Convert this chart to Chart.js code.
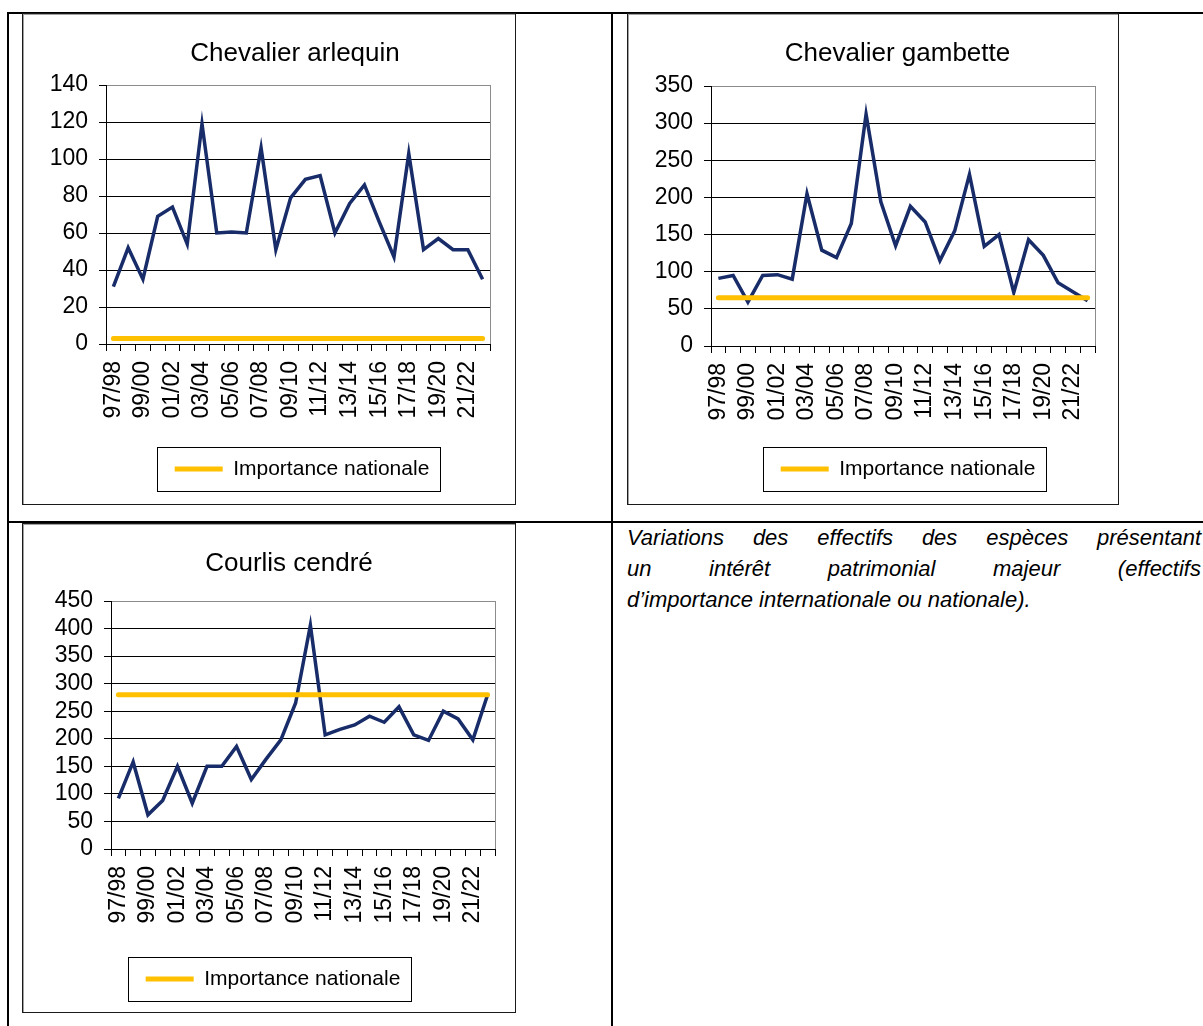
<!DOCTYPE html>
<html lang="fr">
<head>
<meta charset="utf-8">
<title>Variations des effectifs</title>
<script src="https://cdn.jsdelivr.net/npm/chart.js@4.4.1/dist/chart.umd.min.js"></script>
<style>
  html, body { margin: 0; padding: 0; background: #fff; }
  body { width: 1203px; height: 1026px; position: relative; overflow: hidden; font-family: "Liberation Sans", Arial, sans-serif; }
  .rule { position: absolute; background: #000; }
  .frame { position: absolute; box-sizing: border-box; border: 1px solid #1a1a1a; box-shadow: inset 1px 1px 0 #a0a0a0; }
  canvas { position: absolute; }
  .caption { position: absolute; left: 627px; top: 522px; width: 574px; font-style: italic; font-size: 22px; line-height: 31px; color: #000; }
  .caption .j { text-align: justify; text-align-last: justify; }
</style>
</head>
<body>
<div class="rule" style="left:7px;top:12px;width:1196px;height:2px"></div>
<div class="rule" style="left:7px;top:12px;width:2px;height:1014px"></div>
<div class="rule" style="left:611px;top:12px;width:2px;height:1014px"></div>
<div class="rule" style="left:7px;top:521px;width:1196px;height:2px"></div>

<div class="frame" style="left:22px;top:13px;width:494px;height:492px"></div>
<div class="frame" style="left:627px;top:13px;width:492px;height:492px"></div>
<div class="frame" style="left:22px;top:523px;width:494px;height:490px"></div>

<canvas id="arlequin" width="494" height="492" style="left:22px;top:13px"></canvas>
<canvas id="gambette" width="492" height="492" style="left:627px;top:13px"></canvas>
<canvas id="courlis" width="494" height="490" style="left:22px;top:523px"></canvas>

<div class="caption">
  <div class="j">Variations des effectifs des espèces présentant</div>
  <div class="j">un intérêt patrimonial majeur (effectifs</div>
  <div>d’importance internationale ou nationale).</div>
</div>

<script>
const seasons = ["97/98", "98/99", "99/00", "00/01", "01/02", "02/03", "03/04", "04/05", "05/06",
  "06/07", "07/08", "08/09", "09/10", "10/11", "11/12", "12/13", "13/14", "14/15", "15/16",
  "16/17", "17/18", "18/19", "19/20", "20/21", "21/22", "22/23"];

// comptages
const arlequinCounts = [31, 52, 35, 69, 74, 54, 119, 60, 60.5, 60, 106, 51, 79, 89, 91, 60, 76, 86, 66, 47, 103, 51, 57, 51, 51, 35];
const gambetteCounts = [91, 95, 59, 95, 96, 90, 205, 129, 119, 165, 312, 194, 135, 188, 167, 115, 155, 231, 134, 150, 72, 143, 122, 85, 73, 61];
const courlisCounts = [92, 158, 62, 88, 150, 83, 150, 150, 186, 126, 163, 198, 265, 406, 207, 217, 225, 241, 230, 258, 207, 197, 250, 236, 198, 280];

// seuils d'importance nationale
const arlequinNational = 3;
const gambetteNational = 65;
const courlisNational = 280;

const FONT = "'Liberation Sans', Arial, sans-serif";

// gray right edge of the plot area
const plotBorder = {
  id: "plotBorder",
  beforeDatasetsDraw(chart) {
    const { ctx, chartArea: a } = chart;
    ctx.save();
    ctx.strokeStyle = "#8c8c8c";
    ctx.lineWidth = 1;
    ctx.beginPath();
    ctx.moveTo(Math.round(a.right) + 0.5, a.top);
    ctx.lineTo(Math.round(a.right) + 0.5, a.bottom);
    ctx.stroke();
    ctx.restore();
  },
};

// Excel didn't center title / legend on the chart, nudge them sideways
const boxShift = {
  id: "boxShift",
  afterLayout(chart, args, opts) {
    const t = chart.titleBlock;
    const lg = chart.legend;
    t.left += opts.title || 0;
    t.right += opts.title || 0;
    lg.left += opts.legend || 0;
    lg.right += opts.legend || 0;
  },
};

// box round the legend
const legendFrame = {
  id: "legendFrame",
  afterDraw(chart) {
    const hb = chart.legend.legendHitBoxes[0];
    if (!hb) return;
    const { ctx } = chart;
    const cy = hb.top + hb.height / 2;
    ctx.save();
    ctx.strokeStyle = "#000";
    ctx.lineWidth = 1;
    ctx.strokeRect(Math.round(hb.left - 18) + 0.5, Math.round(cy - 22) + 0.5, Math.round(hb.width + 28), 44);
    ctx.restore();
  },
};

function drawChart(id, title, counts, national, yMax, yStep, box) {
  return new Chart(document.getElementById(id), {
    type: "line",
    data: {
      labels: seasons,
      datasets: [
        {
          label: title,
          data: counts,
          borderColor: "#172c68",
          borderWidth: 3.5,
          pointRadius: 0,
          tension: 0,
          order: 1,
        },
        {
          label: "Importance nationale",
          data: seasons.map(() => national),
          borderColor: "#ffc000",
          backgroundColor: "#ffc000",
          borderWidth: 5,
          borderCapStyle: "round",
          pointRadius: 0,
          order: 0,
        },
      ],
    },
    options: {
      responsive: false,
      animation: false,
      devicePixelRatio: 1,
      events: [],
      layout: { padding: { left: 0, right: box.pr, top: 0, bottom: box.pb } },
      plugins: {
        title: {
          display: true,
          text: title,
          color: "#000",
          font: { family: FONT, size: 26, weight: "normal" },
          padding: { top: 25, bottom: box.tb },
        },
        legend: {
          position: "bottom",
          labels: {
            filter: (item) => item.text === "Importance nationale",
            usePointStyle: true,
            pointStyle: "line",
            pointStyleWidth: 48,
            padding: 10,
            color: "#000",
            font: { family: FONT, size: 21 },
          },
        },
        boxShift: { title: box.dxT, legend: box.dxL },
        tooltip: { enabled: false },
      },
      scales: {
        x: {
          offset: true,
          afterFit: (s) => {
            s.height = box.xh;
            s.paddingLeft = 0;
            s.paddingRight = 0;
          },
          grid: { offset: true, drawOnChartArea: false, drawTicks: true, tickLength: 7, color: "#000" },
          border: { color: "#000", width: 1 },
          ticks: {
            autoSkip: false,
            minRotation: 90,
            maxRotation: 90,
            padding: 10,
            color: "#000",
            font: { family: FONT, size: 23 },
            callback: (v, i) => (i % 2 === 0 ? seasons[i] : ""),
          },
        },
        y: {
          min: 0,
          max: yMax,
          afterFit: (s) => { s.width = box.yw; },
          grid: {
            color: (c) => (c.tick && c.tick.value === yMax ? "#8c8c8c" : "#000"),
            tickColor: "#000",
            tickLength: 7,
          },
          border: { color: "#000", width: 1 },
          ticks: {
            stepSize: yStep,
            autoSkip: false,
            padding: 11,
            color: "#000",
            font: { family: FONT, size: 23, lineHeight: 1 },
          },
        },
      },
    },
    plugins: [plotBorder, boxShift, legendFrame],
  });
}

drawChart("arlequin", "Chevalier arlequin", arlequinCounts, arlequinNational, 140, 20,
  { pr: 26, pb: 15.5, tb: 15.8, yw: 84, xh: 104.5, dxT: 39, dxL: 46 });
drawChart("gambette", "Chevalier gambette", gambetteCounts, gambetteNational, 350, 50,
  { pr: 24, pb: 15.5, tb: 16.8, yw: 84, xh: 102.5, dxT: 36.5, dxL: 47 });
drawChart("courlis", "Courlis cendré", courlisCounts, courlisNational, 450, 50,
  { pr: 21, pb: 13.5, tb: 21.8, yw: 89, xh: 109.5, dxT: 30.5, dxL: 14.5 });
</script>
</body>
</html>
